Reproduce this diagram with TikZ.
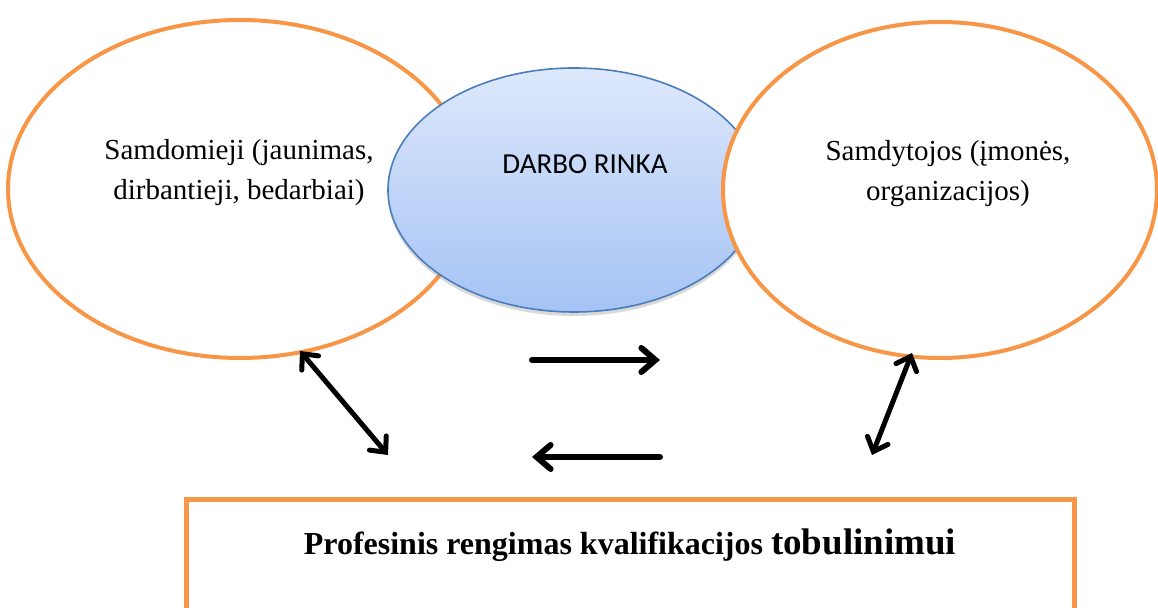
\documentclass[tikz,border=0pt]{standalone}
\usepackage{fontspec}
\setmainfont{Liberation Serif}
\newfontfamily\calibri{Carlito}
\usetikzlibrary{shapes.geometric,arrows.meta,shadows}
\definecolor{rinkaorange}{HTML}{F79646}
\definecolor{rinkablue}{HTML}{4A7EBB}
\definecolor{rinkatop}{HTML}{DDE8FB}
\definecolor{rinkabottom}{HTML}{A5C3F5}
\begin{document}
\begin{tikzpicture}[x=0.5pt,y=-0.5pt]
\tikzset{grupe/.style={ellipse,draw=rinkaorange,line width=2pt,fill=white,inner sep=0pt},
  txt/.style={align=center,font=\fontsize{14.5}{20}\selectfont},
  rodykle/.style={line width=3pt,line cap=round,-{Straight Barb[length=7pt,width=12pt,line cap=round]}},
  abi/.style={line width=2.5pt,line cap=round,{Straight Barb[length=6pt,width=11pt,line cap=round]}-{Straight Barb[length=6pt,width=11pt,line cap=round]}}}
\useasboundingbox (0,0) rectangle (1158,608);

    \node[grupe,minimum width=232pt,minimum height=169pt] (samdomieji) at (240,189) {};
    \node[ellipse,draw=rinkablue,line width=0.8pt,top color=rinkatop,bottom color=rinkabottom,
      drop shadow={opacity=0.3,shadow xshift=0pt,shadow yshift=-2pt},
      minimum width=186pt,minimum height=122pt] (rinka) at (574,190) {};
    \node[grupe,minimum width=217pt,minimum height=168pt] (samdytojos) at (940,190) {};

    \node[txt] (samdomiejiTxt) at (239,173) {Samdomieji (jaunimas,\\dirbantieji, bedarbiai)};
    \node[txt] (samdytojosTxt) at (948,174) {Samdytojos (įmonės,\\organizacijos)};
    \node[font=\calibri\fontsize{14.5}{17}\selectfont] (rinkaTxt) at (585,164) {DARBO RINKA};

    \node[draw=rinkaorange,line width=2.5pt,minimum width=444pt,minimum height=57pt] (mokymas) at (630,557) {};
    \node[font=\bfseries] (mokymasTxt) at (630,545) {\fontsize{16}{19}\selectfont Profesinis rengimas kvalifikacijos \fontsize{18.5}{19}\selectfont tobulinimui};

    \coordinate (r1) at (532,360);
    \coordinate (r2) at (660,360);
    \coordinate (k1) at (660,457);
    \coordinate (k2) at (532,457);
    \coordinate (a1) at (300,351);
    \coordinate (a2) at (388,455);
    \coordinate (b1) at (912,353);
    \coordinate (b2) at (872,455);
    \path[rodykle] (r1) edge (r2) (k1) edge (k2);
    \path[abi] (a1) edge (a2) (b1) edge (b2);
\end{tikzpicture}
\end{document}
